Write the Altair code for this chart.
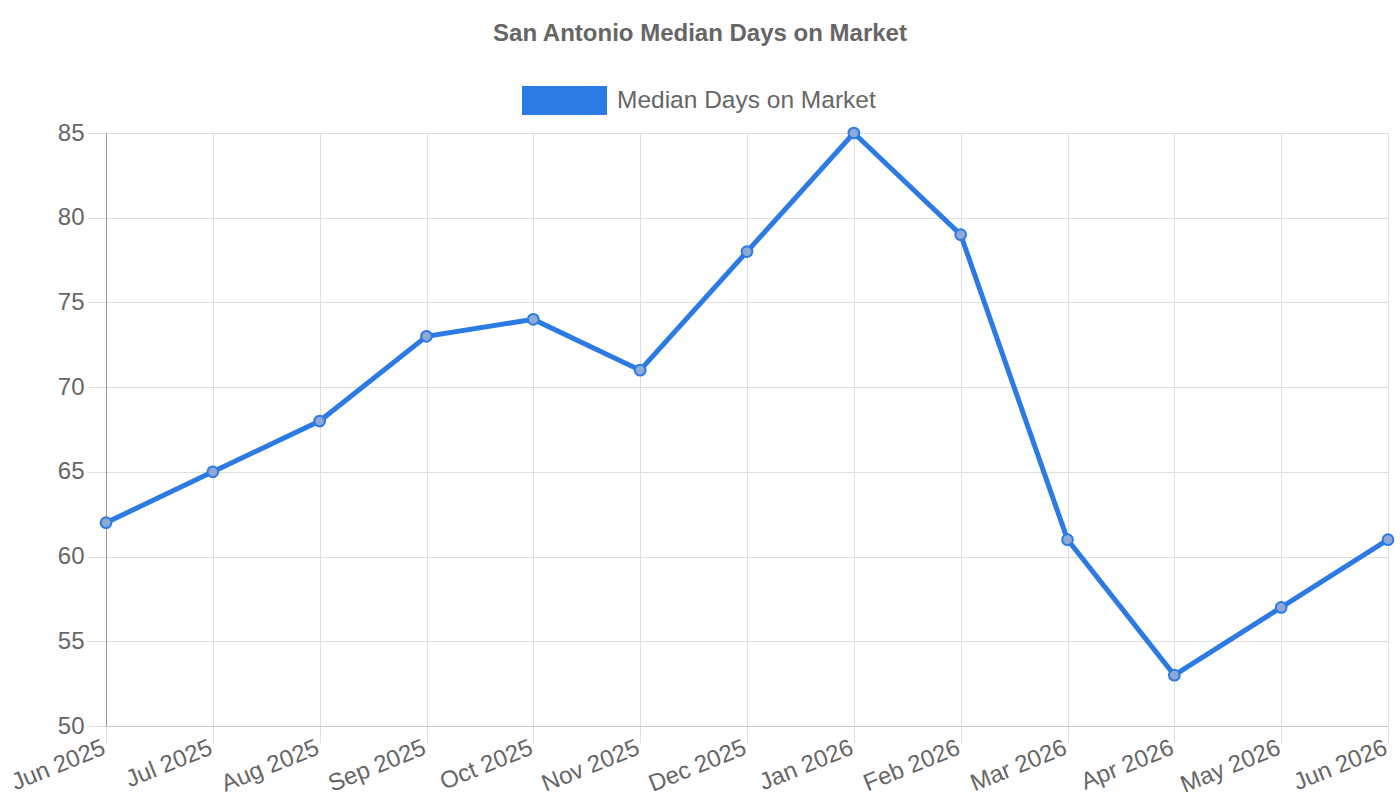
import altair as alt
import pandas as pd

months = ["Jun 2025", "Jul 2025", "Aug 2025", "Sep 2025", "Oct 2025", "Nov 2025",
          "Dec 2025", "Jan 2026", "Feb 2026", "Mar 2026", "Apr 2026", "May 2026", "Jun 2026"]
median_days = [62, 65, 68, 73, 74, 71, 78, 85, 79, 61, 53, 57, 61]

series_name = "Median Days on Market"
chart_title = "San Antonio Median Days on Market"

LINE_BLUE = "#2c7be5"
TEXT_GREY = "#666666"
GRID_GREY = "#dedede"
FONT = "Liberation Sans"

df = pd.DataFrame({"month": months, "days": median_days})

W, H = 1282, 593
PAD_L, PAD_T = 106, 133
X_TICK = 17

x_scale = alt.Scale(type="point", padding=0)

x_enc = alt.X(
    "month:N", sort=months, title=None, scale=x_scale,
    axis=alt.Axis(
        grid=True, gridColor=GRID_GREY, labels=False,
        tickSize=X_TICK, tickColor=GRID_GREY, domainColor="#c8c8c8",
    ),
)
y_enc = alt.Y(
    "days:Q", title=None,
    scale=alt.Scale(domain=[50, 85], nice=False, zero=False),
    axis=alt.Axis(
        values=list(range(50, 90, 5)),
        labelFontSize=24, labelColor=TEXT_GREY, labelFont=FONT, labelPadding=3,
        tickSize=19, tickColor=GRID_GREY, gridColor=GRID_GREY,
        domainColor="#9a9a9a",
    ),
)

line = alt.Chart(df).mark_line(color=LINE_BLUE, strokeWidth=5).encode(x=x_enc, y=y_enc)
points = alt.Chart(df).mark_point(
    shape="circle", size=115, filled=True, fill="#8fa9d6", fillOpacity=1,
    stroke=LINE_BLUE, strokeWidth=2, opacity=1,
).encode(x=alt.X("month:N", sort=months), y="days:Q")

# rotated month labels hanging from the ends of the x ticks
month_labels = alt.Chart(df).mark_text(
    angle=338, align="right", baseline="top", dx=-3, dy=-9,
    font=FONT, fontSize=24, color=TEXT_GREY,
).encode(
    x=alt.X("month:N", sort=months),
    y=alt.value(H + X_TICK),
    text="month:N",
)

one = pd.DataFrame({"k": [0]})

title = alt.Chart(one).mark_text(
    text=chart_title, font=FONT, fontSize=24, fontWeight="bold",
    color=TEXT_GREY, align="center", baseline="middle",
).encode(x=alt.value(700 - PAD_L), y=alt.value(34 - PAD_T))

legend_box = alt.Chart(one).mark_rect(color=LINE_BLUE).encode(
    x=alt.value(522 - PAD_L), x2=alt.value(607 - PAD_L),
    y=alt.value(86 - PAD_T), y2=alt.value(115 - PAD_T),
)
legend_text = alt.Chart(one).mark_text(
    text=series_name, font=FONT, fontSize=24.5, color=TEXT_GREY,
    align="left", baseline="middle",
).encode(x=alt.value(617 - PAD_L), y=alt.value(101 - PAD_T))

chart = alt.layer(line, points, month_labels, title, legend_box, legend_text).properties(
    width=W, height=H,
    autosize=alt.AutoSizeParams(type="none"),
    padding={"left": PAD_L, "top": PAD_T, "right": 1400 - PAD_L - W, "bottom": 800 - PAD_T - H},
).configure_view(stroke=None).configure(background="white")

chart.save("out.html", embed_options={"renderer": "svg", "actions": False})
